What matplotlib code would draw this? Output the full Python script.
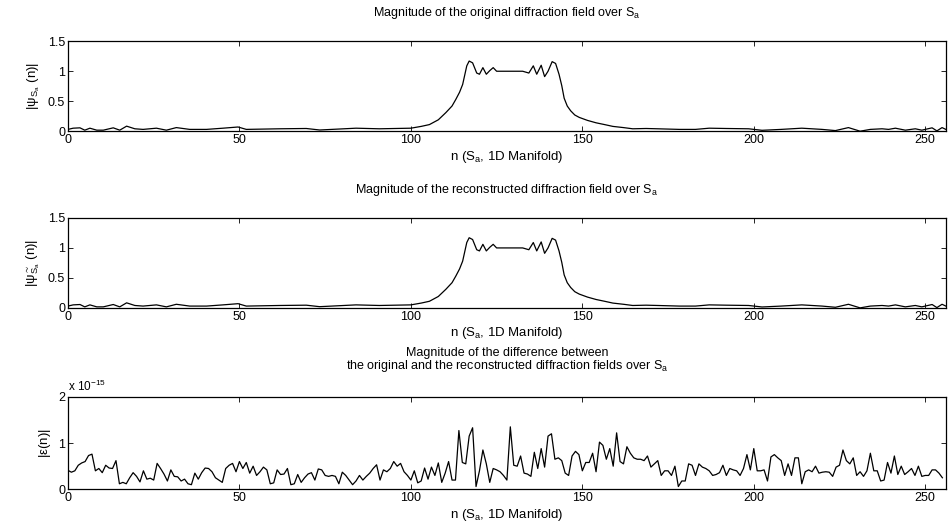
import numpy as np
import matplotlib.pyplot as plt

plt.rcParams['font.family'] = ['Liberation Sans', 'DejaVu Sans']
plt.rcParams['mathtext.default'] = 'regular'
plt.rcParams['font.size'] = 9.5

# |psi_Sa(n)| (n, value) -- reconstruction looks identical
n_field = [0, 1.5, 3.5, 4.9, 6.4, 8.4, 10.3, 13.2, 15.1, 17.1, 19.5, 21.9, 25.8, 28.7,
           31.6, 35.5, 40.4, 45.2, 49.6, 52, 61.7, 69.5, 73.4, 84, 90.8, 100,
           103, 105.4, 108, 110.2, 112, 113.1, 114.2, 115.1, 116.3, 117, 118,
           119.2, 120, 121, 122, 123, 124, 125, 126, 128, 130, 132.6, 134.4,
           135.7, 136.7, 138, 139, 140, 141.2, 142.2, 143.2, 144, 144.7, 145.6,
           146.6, 147.8, 149.1, 151.5, 154, 156.5, 158.9, 162, 164.7, 168.6,
           172, 178.3, 183, 187, 192, 198.5, 202.4, 208, 214, 219.9, 223.8,
           227.6, 231, 234, 237.4, 239.3, 241.3, 244.2, 247.1, 249, 252, 253.4,
           254.9, 256]
psi_orig = [0.03, 0.05, 0.056, 0.017, 0.05, 0.017, 0.017, 0.056, 0.017, 0.084, 0.04,
            0.03, 0.05, 0.017, 0.06, 0.03, 0.03, 0.05, 0.07, 0.03, 0.04, 0.045,
            0.02, 0.05, 0.04, 0.05, 0.08, 0.11, 0.19, 0.31, 0.42, 0.53, 0.65,
            0.78, 1.09, 1.17, 1.14, 0.97, 0.95, 1.06, 0.95, 1.01, 1.06, 1.0, 1.0,
            1.0, 1.0, 1.0, 0.97, 1.09, 0.95, 1.1, 0.91, 1.0, 1.16, 1.13, 0.95,
            0.76, 0.55, 0.42, 0.34, 0.27, 0.23, 0.18, 0.14, 0.11, 0.08, 0.06,
            0.04, 0.045, 0.04, 0.03, 0.03, 0.05, 0.045, 0.04, 0.015, 0.03, 0.05,
            0.03, 0.01, 0.06, 0.0, 0.03, 0.04, 0.03, 0.05, 0.017, 0.04, 0.017,
            0.056, 0.005, 0.06, 0.03]
psi_rec = list(psi_orig)

# |eps(n)| in units of 1e-15, n = 0..255
err = [0.41, 0.37, 0.40, 0.52, 0.57, 0.60, 0.73, 0.76, 0.40, 0.45,
       0.36, 0.52, 0.46, 0.45, 0.62, 0.12, 0.15, 0.12, 0.25, 0.36,
       0.28, 0.16, 0.40, 0.22, 0.24, 0.20, 0.56, 0.45, 0.33, 0.18,
       0.42, 0.28, 0.27, 0.18, 0.22, 0.12, 0.10, 0.35, 0.22, 0.36,
       0.46, 0.45, 0.38, 0.25, 0.20, 0.15, 0.45, 0.52, 0.56, 0.38,
       0.60, 0.45, 0.58, 0.35, 0.50, 0.30, 0.38, 0.48, 0.42, 0.12,
       0.14, 0.42, 0.32, 0.33, 0.45, 0.10, 0.12, 0.32, 0.15, 0.25,
       0.33, 0.36, 0.20, 0.44, 0.42, 0.30, 0.28, 0.30, 0.28, 0.12,
       0.37, 0.30, 0.20, 0.10, 0.18, 0.30, 0.20, 0.28, 0.35, 0.45,
       0.53, 0.20, 0.42, 0.38, 0.45, 0.60, 0.50, 0.56, 0.38, 0.30,
       0.20, 0.40, 0.14, 0.18, 0.46, 0.22, 0.48, 0.30, 0.57, 0.15,
       0.35, 0.60, 0.20, 0.20, 1.27, 0.58, 0.55, 1.15, 1.33, 0.06,
       0.40, 0.85, 0.55, 0.15, 0.45, 0.42, 0.38, 0.30, 0.20, 1.35,
       0.52, 0.50, 0.72, 0.35, 0.33, 0.28, 0.80, 0.45, 0.88, 0.48,
       1.15, 1.20, 0.65, 0.68, 0.62, 0.35, 0.30, 0.72, 0.82, 0.75,
       0.40, 0.58, 0.58, 0.78, 0.38, 1.02, 0.95, 0.65, 0.88, 0.50,
       1.22, 0.60, 0.55, 0.92, 0.78, 0.68, 0.65, 0.65, 0.62, 0.72,
       0.48, 0.55, 0.62, 0.30, 0.40, 0.40, 0.30, 0.50, 0.06, 0.18,
       0.18, 0.55, 0.52, 0.30, 0.55, 0.48, 0.45, 0.40, 0.30, 0.32,
       0.36, 0.52, 0.30, 0.45, 0.42, 0.40, 0.30, 0.45, 0.75, 0.42,
       0.88, 0.40, 0.40, 0.42, 0.18, 0.70, 0.75, 0.68, 0.62, 0.30,
       0.55, 0.30, 0.68, 0.68, 0.12, 0.38, 0.42, 0.38, 0.50, 0.35,
       0.37, 0.38, 0.37, 0.28, 0.48, 0.52, 0.85, 0.62, 0.55, 0.68,
       0.30, 0.38, 0.28, 0.40, 0.78, 0.40, 0.40, 0.18, 0.20, 0.58,
       0.35, 0.72, 0.32, 0.50, 0.32, 0.38, 0.45, 0.30, 0.50, 0.28,
       0.30, 0.30, 0.42, 0.42, 0.35, 0.25]
n_err = np.arange(len(err))

x_ticks = [0, 50, 100, 150, 200, 250]
xlab = 'n ($S_a$, 1D Manifold)'

fig = plt.figure(figsize=(9.48, 5.29), dpi=100)
left, width, h = 0.0717, 0.926, 0.170
ax1 = fig.add_axes([left, 0.752, width, h])
ax2 = fig.add_axes([left, 0.418, width, h])
ax3 = fig.add_axes([left, 0.075, width, 0.175])

for ax in (ax1, ax2, ax3):
    ax.set_xlim(0, 256)
    ax.set_xticks(x_ticks)
    ax.tick_params(direction='in', top=True, right=True, length=3.5, width=0.6,
                   pad=2, labelsize=9)
    for s in ax.spines.values():
        s.set_linewidth(0.9)
    ax.set_xlabel(xlab, labelpad=2)

ax1.plot(n_field, psi_orig, color='black', lw=0.9)
ax1.set_ylim(0, 1.5)
ax1.set_yticks([0, 0.5, 1, 1.5])
ax1.set_yticklabels(['0', '0.5', '1', '1.5'])
ax1.set_ylabel(r'$|\psi_{S_a}\ (n)|$')
ax1.set_title('Magnitude of the original diffraction field over $S_a$',
              fontsize=9, pad=18)

ax2.plot(n_field, psi_rec, color='black', lw=0.9)
ax2.set_ylim(0, 1.5)
ax2.set_yticks([0, 0.5, 1, 1.5])
ax2.set_yticklabels(['0', '0.5', '1', '1.5'])
ax2.set_ylabel(r'$|\psi^{\sim}_{S_a}\ (n)|$')
ax2.set_title('Magnitude of the reconstructed diffraction field over $S_a$',
              fontsize=9, pad=18)

ax3.plot(n_err, err, color='black', lw=0.9)
ax3.set_ylim(0, 2)
ax3.set_yticks([0, 1, 2])
ax3.set_ylabel(r'$|\varepsilon(n)|$')
ax3.set_title('Magnitude of the difference between\n'
              'the original and the reconstructed diffraction fields over $S_a$',
              fontsize=9, pad=20, linespacing=0.9)
ax3.text(0, 1.03, r'x $10^{-15}$', transform=ax3.transAxes, fontsize=8.5, va='bottom')

fig.savefig('out.png', dpi=100)
